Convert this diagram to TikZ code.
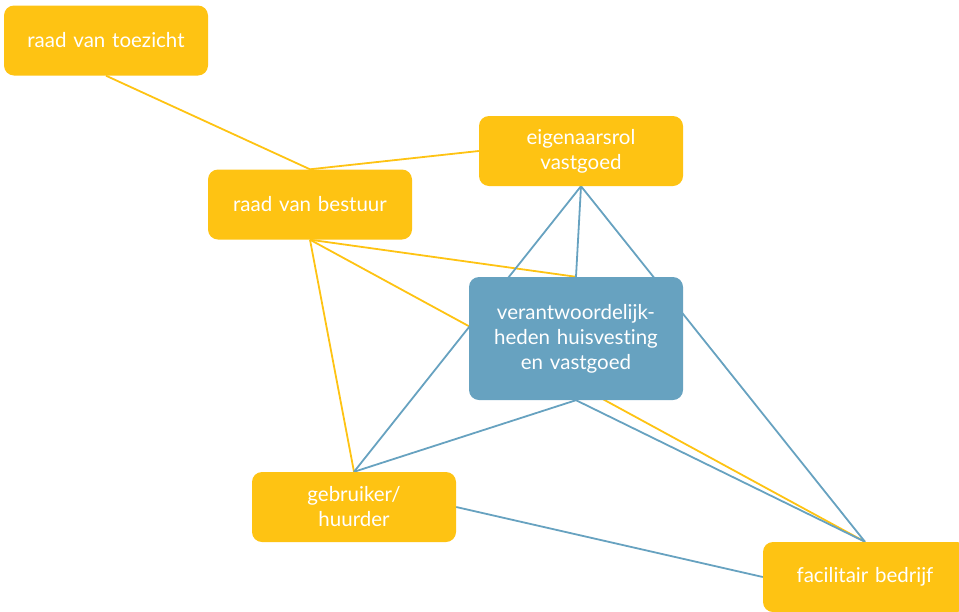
\documentclass[tikz,border=0pt]{standalone}
\usepackage{fontspec}
\setmainfont[Ligatures=NoCommon]{Lato}
\usetikzlibrary{backgrounds}
\definecolor{amber}{HTML}{FEC313}
\definecolor{steel}{HTML}{67A2C0}
\tikzset{
  box/.style={rounded corners=10pt, minimum width=204pt, text width=196pt,
    align=center, text=white, inner sep=0pt, font=\fontsize{20.5}{25}\selectfont},
  ybox/.style={box, fill=amber, minimum height=70pt},
  bbox/.style={box, fill=steel, minimum width=214pt, minimum height=123pt},
  yline/.style={draw=amber, line width=1.8pt},
  bline/.style={draw=steel, line width=1.8pt}
}
\begin{document}
\begin{tikzpicture}[x=1pt,y=-1pt]
  \useasboundingbox (0,0) rectangle (959,611);
  \clip (0,0) rectangle (959,611);
  \node[ybox] (rvt) at (106,40.5) {raad van toezicht};
  \node[ybox] (eig) at (581,151) {eigenaarsrol\\vastgoed};
  \node[ybox] (rvb) at (310,204.5) {raad van bestuur};
  \node[bbox] (ver) at (576,338.5) {verantwoordelijk-\\heden huisvesting\\en vastgoed};
  \node[ybox] (geb) at (354,507) {gebruiker/\\huurder};
  \node[ybox] (fac) at (865,577) {facilitair bedrijf};
  \begin{pgfonlayer}{background}
    \draw[yline] (rvt.south) -- (rvb.north);
    \draw[yline] (rvb.north) -- (eig.west);
    \draw[yline] (rvb.south) -- (ver.north);
    \draw[yline] (rvb.south) -- (fac.north);
    \draw[yline] (rvb.south) -- (geb.north);
    \draw[bline] (eig.south) -- (ver.north);
    \draw[bline] (eig.south) -- (geb.north);
    \draw[bline] (eig.south) -- (fac.north);
    \draw[bline] (ver.south) -- (geb.north);
    \draw[bline] (ver.south) -- (fac.north);
    \draw[bline] (geb.east) -- (fac.west);
  \end{pgfonlayer}
\end{tikzpicture}
\end{document}
